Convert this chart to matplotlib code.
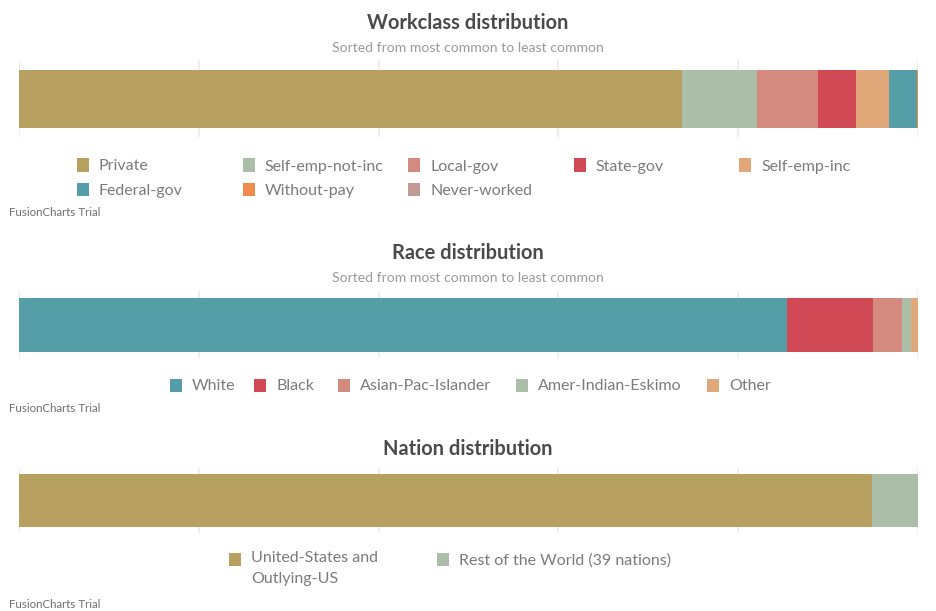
import matplotlib.pyplot as plt
from matplotlib.patches import Rectangle

# share of records, in percent
work_labels = ['Private', 'Self-emp-not-inc', 'Local-gov', 'State-gov', 'Self-emp-inc',
               'Federal-gov', 'Without-pay', 'Never-worked']
work_values = [73.7, 8.4, 6.8, 4.2, 3.7, 3.1, 0.05, 0.02]
work_colors = ['#b8a160', '#abbea7', '#d58a80', '#d14955', '#e0a878',
               '#559ea7', '#f08b4b', '#c29a94']

race_labels = ['White', 'Black', 'Asian-Pac-Islander', 'Amer-Indian-Eskimo', 'Other']
race_values = [85.4, 9.6, 3.2, 1.0, 0.8]
race_colors = ['#559ea7', '#d14955', '#d58a80', '#abbea7', '#e0a878']

nation_labels = ['United-States and\nOutlying-US', 'Rest of the World (39 nations)']
nation_values = [94.9, 5.1]
nation_colors = ['#b8a160', '#abbea7']

W, H = 936, 611
FONT = 'Lato'
plt.rcParams['font.family'] = [FONT, 'DejaVu Sans']

fig = plt.figure(figsize=(W / 100, H / 100), dpi=100)


def pt(px):
    return px * 0.72


def fx(x):
    return x / W


def fy(y):
    return 1 - y / H


def bar_panel(values, colors, grid_top, grid_bot, bar_top, bar_bot):
    ax = fig.add_axes([fx(19), fy(grid_bot), fx(918) - fx(19), fy(grid_top) - fy(grid_bot)])
    total = sum(values)
    span = grid_bot - grid_top
    y0 = (grid_bot - bar_bot) / span
    h = (bar_bot - bar_top) / span
    left = 0
    for v, c in zip(values, colors):
        ax.barh(y0 + h / 2, v, height=h, left=left, color=c, linewidth=0, zorder=2)
        left += v
    ax.set_xlim(0, total)
    ax.set_ylim(0, 1)
    for t in [total * k / 5 for k in range(6)]:
        ax.axvline(t, color='#eeeeee', linewidth=1.5, zorder=1)
    ax.axis('off')
    return ax


def legend_item(x_marker, x_text, y, label, color):
    fig.patches.append(Rectangle((fx(x_marker), fy(y + 6.5)), fx(12), 13 / H,
                                 transform=fig.transFigure, facecolor=color,
                                 edgecolor='none'))
    fig.text(fx(x_text), fy(y + 1.5), label, fontsize=pt(16), color='#7b7b7b',
             va='center', ha='left')


def title(y, text):
    fig.text(0.5, fy(y + 2), text, fontsize=pt(20), fontweight='bold', color='#4a4a4a',
             ha='center', va='center')


def subtitle(y, text):
    fig.text(0.5, fy(y + 1.5), text, fontsize=pt(14), color='#9a9a9a', ha='center', va='center')


def trial(y):
    fig.text(fx(9), fy(y + 1), 'FusionCharts Trial', fontsize=pt(11.5), color='#6f6f6f',
             ha='left', va='center')


# Workclass
title(21, 'Workclass distribution')
subtitle(46, 'Sorted from most common to least common')
bar_panel(work_values, work_colors, 60, 137, 70, 128)
cols = [77, 242.5, 408, 573.5, 739]
for i, (lab, col) in enumerate(zip(work_labels, work_colors)):
    r, c = divmod(i, 5)
    legend_item(cols[c], cols[c] + 22, 165 + r * 24.5, lab, col)
trial(212)

# Race
title(251, 'Race distribution')
subtitle(276, 'Sorted from most common to least common')
bar_panel(race_values, race_colors, 291, 358, 298, 352)
race_x = [170, 254, 338, 516, 707]
for x, lab, col in zip(race_x, race_labels, race_colors):
    legend_item(x, x + 22, 385, lab, col)
trial(407)

# Nation
title(447, 'Nation distribution')
bar_panel(nation_values, nation_colors, 468, 533, 474, 527)
fig.patches.append(Rectangle((fx(229), fy(566)), fx(12), 13 / H, transform=fig.transFigure,
                             facecolor=nation_colors[0], edgecolor='none'))
fig.text(fx(251), fy(558.5), nation_labels[0].split('\n')[0], fontsize=pt(16),
         color='#7b7b7b', ha='left', va='center')
fig.text(fx(251), fy(579.5), nation_labels[0].split('\n')[1], fontsize=pt(16),
         color='#7b7b7b', ha='left', va='center')
legend_item(437, 459, 559.5, nation_labels[1], nation_colors[1])
trial(603)

fig.savefig('out.png', dpi=100)
